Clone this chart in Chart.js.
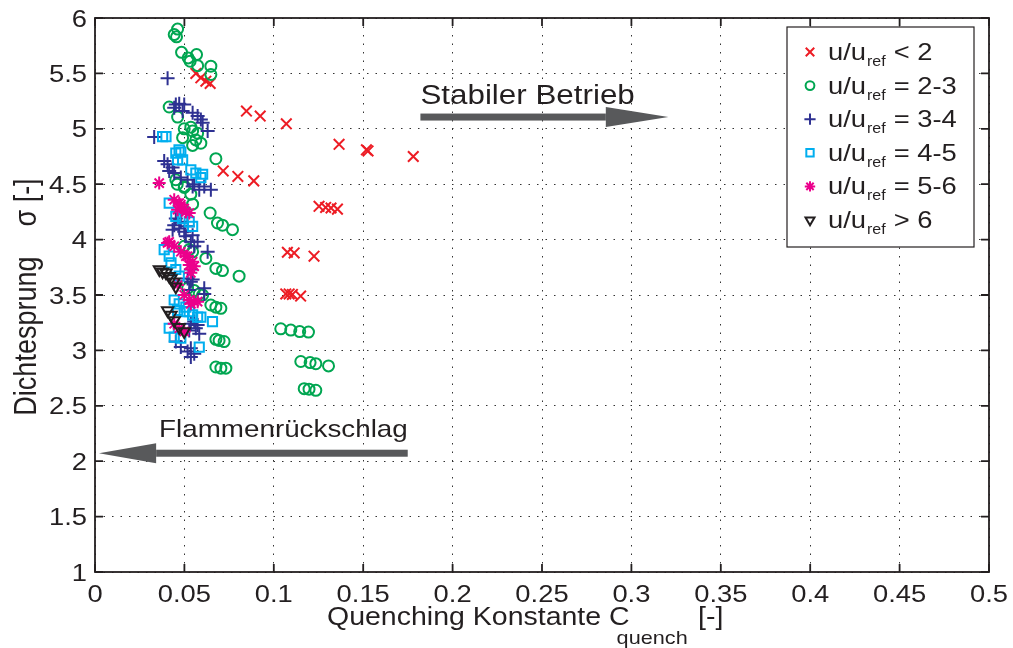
<!DOCTYPE html>
<html>
<head>
<meta charset="utf-8">
<script src="https://cdn.jsdelivr.net/npm/chart.js@4/dist/chart.umd.min.js"></script>
<style>
  html, body { margin: 0; padding: 0; background: #fff; }
  #wrap { width: 1013px; height: 648px; }
</style>
</head>
<body>
<div id="wrap"><canvas id="scatterChart" width="1013" height="648"></canvas></div>
<script>
// =========================
// Data
// =========================
const redX = [0.0564, 0.0592, 0.062, 0.0644, 0.0847, 0.0924, 0.107, 0.1365, 0.1518, 0.1527, 0.178,
  0.0717, 0.0799, 0.0888, 0.1253, 0.129, 0.132, 0.1356, 0.1076, 0.1114, 0.1225, 0.1067, 0.1086, 0.1104, 0.115];
const redY = [5.50, 5.46, 5.43, 5.41, 5.16, 5.115, 5.045, 4.86, 4.81, 4.80, 4.75,
  4.62, 4.57, 4.53, 4.30, 4.29, 4.285, 4.275, 3.886, 3.88, 3.85, 3.51, 3.51, 3.505, 3.49];

const greenX = [0.0462, 0.0443, 0.0456, 0.0484, 0.0521, 0.0568, 0.0532, 0.0574, 0.0648, 0.0648,
  0.0415, 0.0462, 0.0499, 0.0536, 0.0546, 0.049, 0.0574, 0.0564, 0.0592, 0.0546, 0.0676,
  0.046, 0.050, 0.0536, 0.0546, 0.0452, 0.0499, 0.0644, 0.0685, 0.0713, 0.0769,
  0.0499, 0.0546, 0.062, 0.0527, 0.0676, 0.0713, 0.0806, 0.0518, 0.0555, 0.0583, 0.0602,
  0.0648, 0.0676, 0.0704, 0.0676, 0.0694, 0.0722, 0.0676, 0.0704, 0.0732,
  0.1039, 0.1095, 0.1145, 0.1194, 0.1151, 0.1203, 0.1235, 0.1306, 0.117, 0.1197, 0.1235];
const greenY = [5.90, 5.85, 5.83, 5.69, 5.64, 5.67, 5.61, 5.57, 5.565, 5.49,
  5.197, 5.106, 5.00, 5.015, 4.98, 4.92, 4.96, 4.90, 4.87, 4.85, 4.73,
  4.50, 4.48, 4.41, 4.32, 4.54, 4.47, 4.24, 4.15, 4.13, 4.09,
  3.94, 3.89, 3.83, 3.91, 3.74, 3.72, 3.67, 3.56, 3.54, 3.51, 3.50,
  3.41, 3.39, 3.38, 3.10, 3.09, 3.08, 2.85, 2.84, 2.84,
  3.195, 3.183, 3.17, 3.165, 2.90, 2.89, 2.88, 2.86, 2.655, 2.65, 2.64];

const blueX = [0.0406, 0.0452, 0.0471, 0.0499, 0.0443, 0.049, 0.0546, 0.0574, 0.0592, 0.0602,
  0.063, 0.0331, 0.0387, 0.0406, 0.0434, 0.0415, 0.0443, 0.048, 0.0518, 0.0546, 0.0583, 0.0648,
  0.0555, 0.0611, 0.0443, 0.0471, 0.0434, 0.0499, 0.0546, 0.0452, 0.048, 0.0518,
  0.0508, 0.0536, 0.0555, 0.0574, 0.063, 0.0536, 0.0546, 0.0527, 0.0611, 0.0518, 0.0536, 0.0611,
  0.0536, 0.0564, 0.0583, 0.0555, 0.0574, 0.0527, 0.0452, 0.048, 0.0518, 0.0536, 0.0555, 0.0536];
const blueY = [5.457, 5.22, 5.227, 5.22, 5.19, 5.16, 5.145, 5.115, 5.085, 5.054,
  4.98, 4.925, 4.71, 4.68, 4.65, 4.62, 4.60, 4.56, 4.54, 4.48, 4.45, 4.45,
  4.50, 4.48, 4.13, 4.10, 4.09, 4.07, 4.04, 4.19, 4.16, 4.12,
  4.03, 3.98, 3.94, 3.98, 3.89, 3.73, 3.64, 3.545, 3.51, 3.65, 3.62, 3.56,
  3.24, 3.20, 3.15, 3.26, 3.23, 3.18, 3.08, 3.03, 2.99, 2.94, 2.97, 3.02];

const cyanX = [0.0378, 0.0397, 0.047, 0.0452, 0.048, 0.049, 0.0462, 0.0536, 0.0564, 0.0602, 0.0592,
  0.0415, 0.0452, 0.049, 0.0527, 0.0546, 0.0387, 0.0415, 0.0425, 0.0452, 0.0471,
  0.0443, 0.0471, 0.0508, 0.0527, 0.0574, 0.0462, 0.0499, 0.0546, 0.0592, 0.0657,
  0.0415, 0.0443, 0.048, 0.0583];
const cyanY = [4.93, 4.93, 4.81, 4.78, 4.79, 4.72, 4.72, 4.63, 4.60, 4.59, 4.56,
  4.33, 4.21, 4.19, 4.16, 4.12, 3.91, 3.85, 3.79, 3.73, 3.67,
  3.455, 3.42, 3.39, 3.35, 3.30, 3.36, 3.35, 3.32, 3.30, 3.26,
  3.20, 3.12, 3.11, 3.03];

const magentaX = [0.0359, 0.0443, 0.048, 0.0499, 0.0462, 0.0471, 0.0508, 0.0527,
  0.0406, 0.0415, 0.0443, 0.048, 0.0508, 0.0518, 0.0546, 0.0527, 0.0555, 0.0536,
  0.0462, 0.0499, 0.0527, 0.0555, 0.0536, 0.0574, 0.0443, 0.0471, 0.0499];
const magentaY = [4.51, 4.36, 4.315, 4.28, 4.27, 4.33, 4.25, 4.24,
  3.97, 3.98, 3.94, 3.89, 3.85, 3.85, 3.80, 3.77, 3.76, 3.70,
  3.59, 3.50, 3.455, 3.44, 3.42, 3.44, 3.24, 3.20, 3.17];

const blackX = [0.036, 0.0378, 0.0397, 0.0415, 0.0425, 0.0443, 0.0452,
  0.0406, 0.0425, 0.0443, 0.0471, 0.0499];
const blackY = [3.73, 3.71, 3.70, 3.67, 3.65, 3.62, 3.575,
  3.36, 3.32, 3.27, 3.21, 3.17];

const legendRight = ["< 2", "= 2-3", "= 3-4", "= 4-5", "= 5-6", "> 6"];

const xTitle = "Quenching Konstante C";
const xTitleSub = "quench";
const yTitle = "Dichtesprung    \u03c3 [-]";

// =========================
// Styles
// =========================
const FONT = '"Liberation Sans", Arial, sans-serif';
const SX = 1.14; // the figure text is a little wide
const TEXT = "#231f20";
const ARROW = "#58595b";
const MARK_W = 2;

const seriesStyle = [
  { x: redX, y: redY, color: "#ed1c24", pointStyle: "crossRot", radius: 7.5, rotation: 0 },
  { x: greenX, y: greenY, color: "#00a651", pointStyle: "circle", radius: 5.5, rotation: 0 },
  { x: blueX, y: blueY, color: "#2e3192", pointStyle: "cross", radius: 7, rotation: 0 },
  { x: cyanX, y: cyanY, color: "#00aeef", pointStyle: "rect", radius: 6.5, rotation: 0 },
  { x: magentaX, y: magentaY, color: "#ec008c", pointStyle: "star", radius: 6.5, rotation: 0 },
  { x: blackX, y: blackY, color: "#231f20", pointStyle: "triangle", radius: 6.5, rotation: 180 },
];

function stretchText(ctx, s, x, y, size, align) {
  ctx.save();
  ctx.font = size + "px " + FONT;
  ctx.textAlign = align || "left";
  ctx.textBaseline = "alphabetic";
  ctx.translate(x, y);
  ctx.scale(SX, 1);
  ctx.fillText(s, 0, 0);
  const w = ctx.measureText(s).width * SX;
  ctx.restore();
  return w;
}

function fmt(v) {
  return String(Number(v.toFixed(2)));
}

// =========================
// Frame, ticks, labels, legend, arrows
// =========================
const decorPlugin = {
  id: "decor",
  afterDraw(chart) {
    const ctx = chart.ctx;
    const { left, right, top, bottom } = chart.chartArea;
    const xs = chart.scales.x;
    const ys = chart.scales.y;
    const tick = 8;

    ctx.save();
    ctx.strokeStyle = TEXT;
    ctx.lineWidth = 1.8;
    ctx.strokeRect(left, top, right - left, bottom - top);

    // inward ticks on all four sides
    ctx.beginPath();
    xs.ticks.forEach((t) => {
      const px = xs.getPixelForValue(t.value);
      ctx.moveTo(px, bottom); ctx.lineTo(px, bottom - tick);
      ctx.moveTo(px, top); ctx.lineTo(px, top + tick);
    });
    ys.ticks.forEach((t) => {
      const py = ys.getPixelForValue(t.value);
      ctx.moveTo(left, py); ctx.lineTo(left + tick, py);
      ctx.moveTo(right, py); ctx.lineTo(right - tick, py);
    });
    ctx.stroke();

    // tick labels
    ctx.fillStyle = TEXT;
    xs.ticks.forEach((t) => {
      stretchText(ctx, fmt(t.value), xs.getPixelForValue(t.value), bottom + 30, 24, "center");
    });
    ys.ticks.forEach((t) => {
      stretchText(ctx, fmt(t.value), left - 8, ys.getPixelForValue(t.value) + 8.5, 24, "right");
    });

    // x title with subscript
    let cx = 327;
    cx += stretchText(ctx, xTitle, cx, 625, 25, "left");
    stretchText(ctx, xTitleSub, cx - 13, 644, 19, "left");
    stretchText(ctx, "[-]", 698, 625, 25, "left");

    // y title, rotated
    ctx.save();
    ctx.font = "27px " + FONT;
    ctx.textAlign = "center";
    ctx.translate(36, (top + bottom) / 2 + 2);
    ctx.scale(SX, 1);
    ctx.rotate(-Math.PI / 2);
    ctx.fillText(yTitle, 0, 0);
    ctx.restore();

    // annotation arrows, placed in data units
    const arrow = (x0, x1, yv, headLen) => {
      const p0 = xs.getPixelForValue(x0);
      const p1 = xs.getPixelForValue(x1);
      const ph = xs.getPixelForValue(x1 - Math.sign(x1 - x0) * headLen);
      const py = ys.getPixelForValue(yv);
      ctx.fillStyle = ARROW;
      ctx.fillRect(Math.min(p0, ph), py - 3.5, Math.abs(ph - p0), 7);
      ctx.beginPath();
      ctx.moveTo(ph, py - 10);
      ctx.lineTo(p1, py);
      ctx.lineTo(ph, py + 10);
      ctx.closePath();
      ctx.fill();
    };
    arrow(0.182, 0.3207, 5.106, 0.035);
    arrow(0.1749, 0.0022, 2.072, 0.032);

    ctx.fillStyle = TEXT;
    stretchText(ctx, "Stabiler Betrieb", xs.getPixelForValue(0.182), ys.getPixelForValue(5.22), 27.5, "left");
    stretchText(ctx, "Flammenr\u00fcckschlag", xs.getPixelForValue(0.0358), ys.getPixelForValue(2.217), 24.4, "left");

    // legend box
    const lx = 787, ly = 27, lw = 187, lh = 220;
    ctx.fillStyle = "#fff";
    ctx.fillRect(lx, ly, lw, lh);
    ctx.strokeStyle = TEXT;
    ctx.lineWidth = 1.2;
    ctx.strokeRect(lx, ly, lw, lh);

    seriesStyle.forEach((s, i) => {
      const cy = 52 + i * 33.6;
      ctx.save();
      ctx.strokeStyle = s.color;
      ctx.fillStyle = "rgba(0,0,0,0)";
      ctx.lineWidth = MARK_W;
      Chart.helpers.drawPoint(ctx, {
        pointStyle: s.pointStyle,
        radius: s.radius * 0.8,
        rotation: s.rotation,
        borderWidth: MARK_W,
      }, 810, cy);
      ctx.restore();
      ctx.fillStyle = TEXT;
      let tx = 828;
      tx += stretchText(ctx, "u/u", tx, cy + 8, 24, "left");
      tx += stretchText(ctx, "ref", tx + 1, cy + 14, 14, "left");
      stretchText(ctx, legendRight[i], tx + 9, cy + 8, 24, "left");
    });

    ctx.restore();
  },
};

// =========================
// Scatter chart
// =========================
function renderScatter() {
  const ctx = document.getElementById("scatterChart").getContext("2d");

  const datasets = seriesStyle.map((s, i) => ({
    data: s.x.map((x, k) => ({ x: x, y: s.y[k] })),
    pointStyle: s.pointStyle,
    pointRadius: s.radius,
    pointRotation: s.rotation,
    pointBorderColor: s.color,
    pointBackgroundColor: "rgba(0,0,0,0)",
    pointBorderWidth: MARK_W,
    order: seriesStyle.length - 1 - i,
  }));

  new Chart(ctx, {
    type: "scatter",
    data: { datasets: datasets },
    options: {
      responsive: false,
      animation: false,
      layout: { padding: { top: 18, right: 24, left: 0, bottom: 0 } },
      plugins: {
        legend: { display: false },
        tooltip: { enabled: false },
      },
      scales: {
        x: {
          type: "linear",
          min: 0,
          max: 0.5,
          ticks: { stepSize: 0.05, display: false },
          grid: { color: "#333", lineWidth: 1, drawTicks: false },
          border: { display: false, dash: [1.5, 7] },
          afterFit: (scale) => { scale.height = 76; },
        },
        y: {
          min: 1,
          max: 6,
          ticks: { stepSize: 0.5, display: false },
          grid: { color: "#333", lineWidth: 1, drawTicks: false },
          border: { display: false, dash: [1.5, 7] },
          afterFit: (scale) => { scale.width = 95; },
        },
      },
    },
    plugins: [decorPlugin],
  });
}

renderScatter();
</script>
</body>
</html>
